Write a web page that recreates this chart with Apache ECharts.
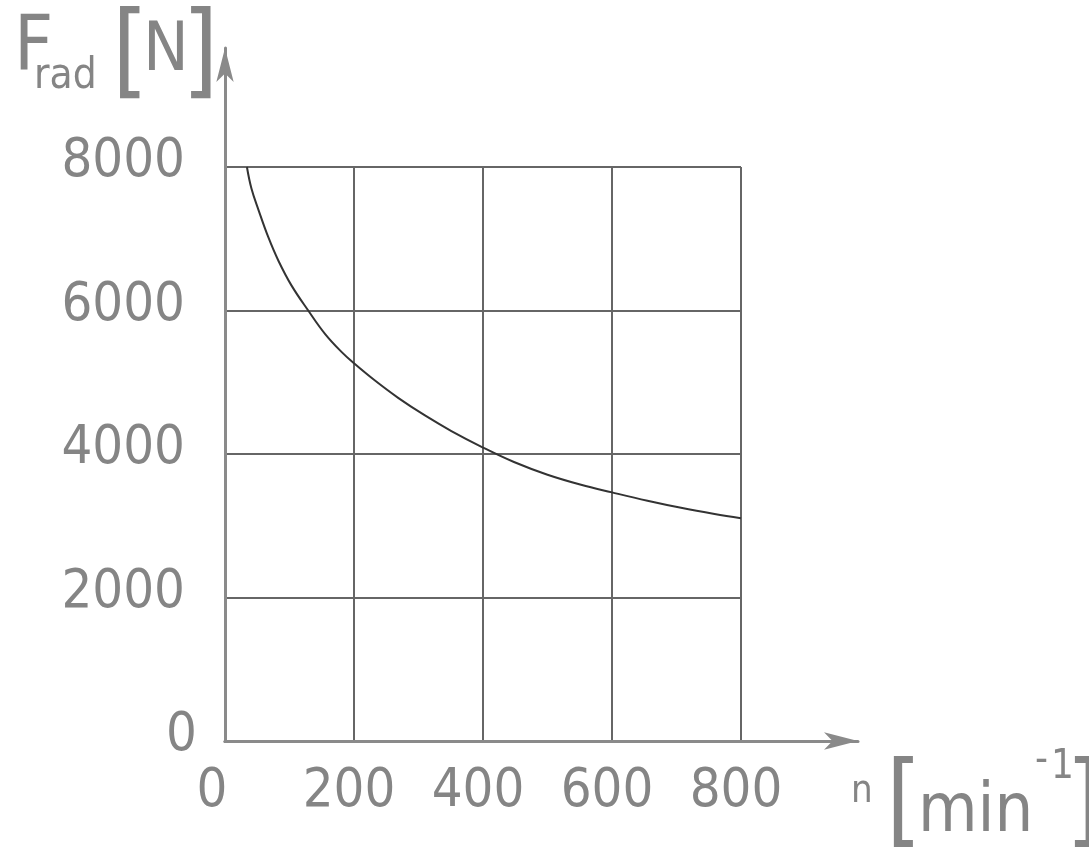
<!DOCTYPE html>
<html>
<head>
<meta charset="utf-8">
<script src="https://cdn.jsdelivr.net/npm/echarts@6/dist/echarts.min.js"></script>
<style>html,body{margin:0;padding:0;background:#fff;}#c{width:1089px;height:849px;}</style>
</head>
<body>
<div id="c"></div>
<script>
// Data
const speedN = [34, 41, 52, 67, 83, 103, 129, 155, 181, 200, 232, 269, 310, 351, 400, 448, 500, 552, 600, 655, 707, 759, 800];
const forceF = [8000, 7700, 7400, 7025, 6690, 6350, 6000, 5675, 5420, 5264, 5027, 4779, 4537, 4320, 4090, 3888, 3711, 3571, 3465, 3349, 3250, 3164, 3105];
const xTicks = [0, 200, 400, 600, 800];
const yTicks = [0, 2000, 4000, 6000, 8000];

const FONT = "'DejaVu Sans Condensed', 'DejaVu Sans', sans-serif";
const TXT = '#858585';

const chart = echarts.init(document.getElementById('c'), null, {renderer: 'canvas'});
const mk = (text, left, top, size) => ({
  text, left, top,
  textStyle: {fontFamily: FONT, fontSize: size, lineHeight: size, fontWeight: 'normal', color: TXT},
  padding: 0
});
const lab = (size, pad) => ({fontFamily: FONT, fontSize: size, lineHeight: size, color: TXT, padding: pad});
chart.setOption({
  animation: false,
  backgroundColor: '#fff',
  title: [
    mk('F', 14, 12, 76),
    mk('rad', 34, 56, 42),
    mk('[', 112, 6, 104),
    mk('N', 143, 18, 68),
    mk(']', 182, 6, 104),
    mk('n', 851, 773, 38),
    mk('[', 886, 755, 102),
    mk('min', 918, 779, 68),
    mk('-', 1035, 742, 40),
    mk('1', 1051, 748, 40),
    mk(']', 1066, 755, 102)
  ],
  grid: [
    {left: 225, right: 348, top: 167, bottom: 108},
    {left: 225, right: 231, top: 48, bottom: 108}
  ],
  xAxis: [
    {
      type: 'value', gridIndex: 0, min: xTicks[0], max: xTicks[xTicks.length - 1], interval: 200,
      axisLine: {show: true, lineStyle: {color: '#8a8a8a', width: 3}},
      axisTick: {show: false},
      splitLine: {show: true, lineStyle: {color: '#666', width: 2}},
      axisLabel: {
        fontFamily: FONT, fontSize: 54, lineHeight: 54, color: TXT, margin: 24,
        verticalAlign: 'top',
        formatter: v => v === 0 ? '{z|0}' : '{a|' + v + '}',
        rich: {a: lab(54, [0, 10, 0, 0]), z: lab(54, [0, 26, 0, 0])}
      }
    },
    {
      type: 'value', gridIndex: 1, min: 0, max: 1,
      axisLine: {show: true, symbol: ['none', 'arrow'], symbolSize: [13, 34], lineStyle: {color: '#8a8a8a', width: 3}},
      axisTick: {show: false}, splitLine: {show: false}, axisLabel: {show: false}
    }
  ],
  yAxis: [
    {
      type: 'value', gridIndex: 0, min: yTicks[0], max: yTicks[yTicks.length - 1], interval: 2000,
      axisLine: {show: true, lineStyle: {color: '#8a8a8a', width: 3}},
      axisTick: {show: false},
      splitLine: {show: true, lineStyle: {color: '#666', width: 2}},
      axisLabel: {
        fontFamily: FONT, fontSize: 54, lineHeight: 54, color: TXT, margin: 28,
        formatter: v => v === 0 ? '{z|0}' : '{a|' + v + '}',
        rich: {a: lab(54, [0, 12, 10, 0]), z: lab(54, [0, 0, 10, 0])}
      }
    },
    {
      type: 'value', gridIndex: 1, min: 0, max: 1,
      axisLine: {show: true, symbol: ['none', 'arrow'], symbolSize: [13, 34], lineStyle: {color: '#8a8a8a', width: 3}},
      axisTick: {show: false}, splitLine: {show: false}, axisLabel: {show: false}
    }
  ],
  series: [{
    type: 'line',
    xAxisIndex: 0, yAxisIndex: 0,
    data: speedN.map((n, i) => [n, forceF[i]]),
    smooth: 0.4,
    showSymbol: false,
    lineStyle: {color: '#333', width: 2},
    z: 5
  }]
});
</script>
</body>
</html>
